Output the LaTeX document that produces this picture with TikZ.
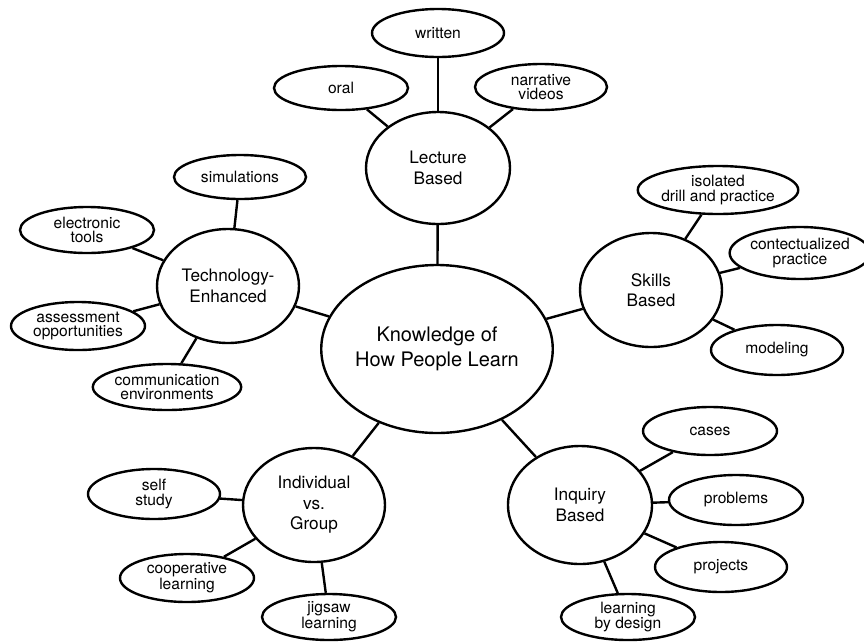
\documentclass[tikz,border=0pt]{standalone}
\usepackage{fontspec}
\setmainfont{TeX Gyre Heros}
\usetikzlibrary{shapes.geometric}
\begin{document}
\begin{tikzpicture}[x=1pt,y=-1pt,
  bubble/.style={draw, ellipse, line width=2.4pt, inner sep=0pt, align=center},
  leaf/.style={bubble, font=\fontsize{15.6}{14.2}\selectfont},
  mid/.style={bubble, font=\fontsize{17.2}{20.5}\selectfont},
  hub/.style={bubble, font=\fontsize{20}{25}\selectfont},
  link/.style={line width=2.4pt}]
\useasboundingbox (0,0) rectangle (864,641);
% hub and branches
\node[hub, minimum width=204pt, minimum height=168pt] (center) at (437,349) {Knowledge of\\How People Learn};
\node[mid, minimum width=144pt, minimum height=112pt] (lecture) at (438,168) {Lecture\\Based};
\node[mid, minimum width=142pt, minimum height=114pt] (tech) at (228,286) {Technology-\\Enhanced};
\node[mid, minimum width=142pt, minimum height=114pt] (skills) at (651,290) {Skills\\Based};
\node[mid, minimum width=142pt, minimum height=114pt] (indiv) at (314,505) {Individual\\vs.\\Group};
\node[mid, minimum width=144pt, minimum height=118pt] (inquiry) at (580,505) {Inquiry\\Based};
% leaves
\node[leaf, minimum width=132pt, minimum height=48pt] (written) at (438,33) {written};
\node[leaf, minimum width=134pt, minimum height=44pt] (oral) at (341,88) {oral};
\node[leaf, minimum width=132pt, minimum height=46pt] (narr) at (541,87) {narrative\\videos};
\node[leaf, minimum width=132pt, minimum height=44pt] (sim) at (240,177) {simulations};
\node[leaf, minimum width=134pt, minimum height=46pt] (elec) at (87,230) {electronic\\tools};
\node[leaf, minimum width=134pt, minimum height=48pt] (assess) at (78,326) {assessment\\opportunities};
\node[leaf, minimum width=132pt, minimum height=46pt] (comm) at (167,387) {communication\\environments};
\node[leaf, minimum width=134pt, minimum height=48pt] (drill) at (718,190) {isolated\\drill and practice};
\node[leaf, minimum width=126pt, minimum height=52pt] (context) at (800,253) {contectualized\\practice};
\node[leaf, minimum width=132pt, minimum height=50pt] (model) at (777,350) {modeling};
\node[leaf, minimum width=134pt, minimum height=48pt] (cases) at (710,431) {cases};
\node[leaf, minimum width=134pt, minimum height=50pt] (problems) at (736,500) {problems};
\node[leaf, minimum width=132pt, minimum height=50pt] (projects) at (721,567) {projects};
\node[leaf, minimum width=134pt, minimum height=46pt] (design) at (628,617) {learning\\by design};
\node[leaf, minimum width=132pt, minimum height=50pt] (self) at (154,494) {self\\study};
\node[leaf, minimum width=134pt, minimum height=48pt] (coop) at (187,578) {cooperative\\learning};
\node[leaf, minimum width=134pt, minimum height=46pt] (jigsaw) at (329,617) {jigsaw\\learning};
% connectors
\draw[link] (center) -- (lecture);
\draw[link] (center) -- (tech);
\draw[link] (center) -- (skills);
\draw[link] (center) -- (indiv);
\draw[link] (center) -- (inquiry);
\draw[link] (lecture) -- (written);
\draw[link] (lecture) -- (oral);
\draw[link] (lecture) -- (narr);
\draw[link] (tech) -- (sim);
\draw[link] (tech) -- (elec);
\draw[link] (tech) -- (assess);
\draw[link] (tech) -- (comm);
\draw[link] (skills) -- (drill);
\draw[link] (skills) -- (context);
\draw[link] (skills) -- (model);
\draw[link] (inquiry) -- (cases);
\draw[link] (inquiry) -- (problems);
\draw[link] (inquiry) -- (projects);
\draw[link] (inquiry) -- (design);
\draw[link] (indiv) -- (self);
\draw[link] (indiv) -- (coop);
\draw[link] (indiv) -- (jigsaw);
\end{tikzpicture}
\end{document}
